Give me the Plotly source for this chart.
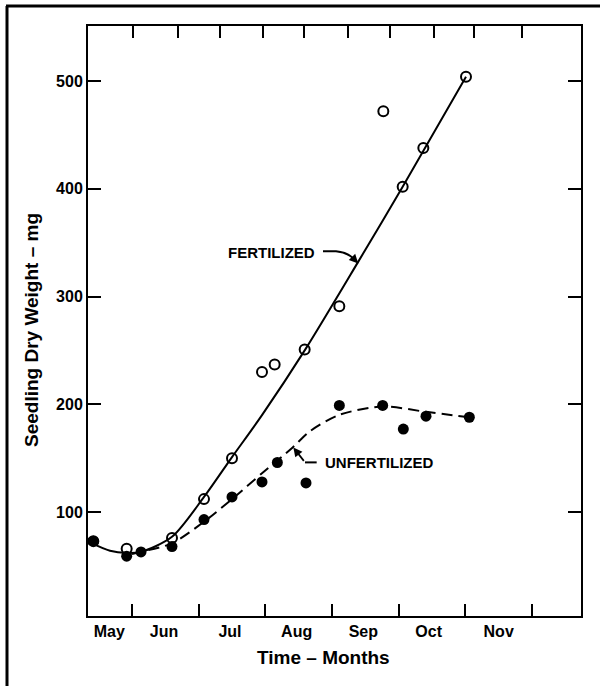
import plotly.graph_objects as go

# x in months: 1 = June 1, 2 = July 1, ... (0 = May 1)
fert_x = [0.42, 0.92, 1.60, 2.08, 2.50, 2.95, 3.14, 3.59, 4.11, 4.77, 5.06, 5.37, 6.01]
fert_y = [73, 66, 76, 112, 150, 230, 237, 251, 291, 472, 402, 438, 504]

unfert_x = [0.42, 0.92, 1.135, 1.60, 2.08, 2.50, 2.95, 3.18, 3.61, 4.11, 4.76, 5.07, 5.41, 6.06]
unfert_y = [73, 59, 63, 68, 93, 114, 128, 146, 127, 199, 199, 177, 189, 188]

fert_curve_x = [0.36, 0.67, 0.925, 1.135, 1.6, 2.08, 2.5, 2.95, 3.6, 4.39, 5.06, 6.01]
fert_curve_y = [72, 64, 62, 63, 77, 114, 151, 190, 251, 332, 402, 504]

unfert_curve_x = [1.0, 1.135, 1.6, 2.08, 2.5, 2.95, 3.41, 3.67, 4.1, 4.76, 5.41, 6.06]
unfert_curve_y = [61, 63, 71, 91, 112, 136, 160, 175, 190, 198, 193, 188]

month_labels = ["May", "Jun", "Jul", "Aug", "Sep", "Oct", "Nov"]
month_label_pos = [0.66, 1.48, 2.47, 3.47, 4.47, 5.45, 6.5]
month_bounds = [1, 2, 3, 4, 5, 6, 7]
top_ticks = [1.018, 1.684, 2.326, 2.97, 3.583, 4.243, 4.875, 5.524, 6.127, 6.844]
y_ticks = [100, 200, 300, 400, 500]

XR = [0.34, 7.735]
YR = [3.5, 551.2]
FONT = "Liberation Sans, Arial, sans-serif"

fig = go.Figure()
fig.add_trace(go.Scatter(x=fert_curve_x, y=fert_curve_y, mode="lines",
                         line=dict(color="black", width=2, shape="spline", smoothing=0.8),
                         hoverinfo="skip"))
fig.add_trace(go.Scatter(x=unfert_curve_x, y=unfert_curve_y, mode="lines",
                         line=dict(color="black", width=2, shape="spline", smoothing=0.8,
                                   dash="11px,6px"),
                         hoverinfo="skip"))
fig.add_trace(go.Scatter(x=fert_x, y=fert_y, mode="markers",
                         marker=dict(symbol="circle-open", size=10, color="black",
                                     line=dict(width=2, color="black"))))
fig.add_trace(go.Scatter(x=unfert_x, y=unfert_y, mode="markers",
                         marker=dict(symbol="circle", size=11, color="black")))
# invisible trace to activate the top axis
fig.add_trace(go.Scatter(x=fert_x, y=fert_y, mode="markers", xaxis="x2",
                         marker=dict(opacity=0), hoverinfo="skip"))

tickfont = dict(family=FONT, size=16, color="black", weight="bold")

fig.update_layout(
    width=600, height=686,
    margin=dict(l=88, r=19, t=26, b=70),
    paper_bgcolor="white", plot_bgcolor="white",
    showlegend=False,
    xaxis=dict(range=XR, showline=True, linewidth=2, linecolor="black",
               showgrid=False, zeroline=False,
               tickmode="array", tickvals=month_label_pos, ticktext=month_labels,
               ticks="", tickfont=tickfont,
               minor=dict(tickmode="array", tickvals=month_bounds, ticks="inside",
                          ticklen=12, tickwidth=1.5, tickcolor="black", showgrid=False)),
    xaxis2=dict(range=XR, overlaying="x", side="top", showline=True, linewidth=2,
                linecolor="black", showgrid=False, zeroline=False,
                tickmode="array", tickvals=top_ticks, ticks="inside", ticklen=12,
                tickwidth=1.5, tickcolor="black", showticklabels=False),
    yaxis=dict(range=YR, showline=True, linewidth=2, linecolor="black", mirror="ticks",
               showgrid=False, zeroline=False,
               tickmode="array", tickvals=y_ticks, ticks="inside", ticklen=13,
               tickwidth=1.5, tickcolor="black", tickfont=tickfont),
)

ann_font = dict(family=FONT, size=15, color="black", weight="bold")
fig.add_annotation(x=3.085, y=341.3, xref="x", yref="y", text="FERTILIZED",
                   showarrow=False, font=ann_font)
fig.add_annotation(x=4.705, y=146.4, xref="x", yref="y", text="UNFERTILIZED",
                   showarrow=False, font=ann_font)

# leader lines
fig.add_shape(type="path", xref="x", yref="y",
              path="M 3.865 342.2 L 4.06 342.2 Q 4.24 341.3 4.34 334",
              line=dict(color="black", width=2))
fig.add_annotation(x=4.394, y=330.8, ax=4.32, ay=335.5, xref="x", yref="y",
                   axref="x", ayref="y", text="", showarrow=True,
                   arrowhead=2, arrowsize=1, arrowwidth=1.8, arrowcolor="black")
fig.add_shape(type="line", xref="x", yref="y", x0=3.77, y0=146.1, x1=3.595, y1=146.1,
              line=dict(color="black", width=2))
fig.add_annotation(x=3.42, y=160, ax=3.595, ay=146.1, xref="x", yref="y",
                   axref="x", ayref="y", text="", showarrow=True,
                   arrowhead=2, arrowsize=1, arrowwidth=1.8, arrowcolor="black")

# axis titles
fig.add_annotation(x=0.4787, y=-0.0695, xref="paper", yref="paper",
                   text="Time – Months", showarrow=False,
                   font=dict(family=FONT, size=19, color="black", weight="bold"),
                   yanchor="middle")
fig.add_annotation(x=-0.1156, y=0.4847, xref="paper", yref="paper",
                   text="Seedling Dry Weight – mg", showarrow=False, textangle=-90,
                   font=dict(family=FONT, size=19, color="black", weight="bold"),
                   xanchor="center", yanchor="middle")

# outer frame (left and top edges)
fig.add_shape(type="line", xref="paper", yref="paper", x0=-0.1643, x1=-0.1643,
              y0=-0.2, y1=1.0339, line=dict(color="black", width=3))
fig.add_shape(type="line", xref="paper", yref="paper", x0=-0.1663, x1=1.1,
              y0=1.0339, y1=1.0339, line=dict(color="black", width=3))

fig.write_html("out.html")
